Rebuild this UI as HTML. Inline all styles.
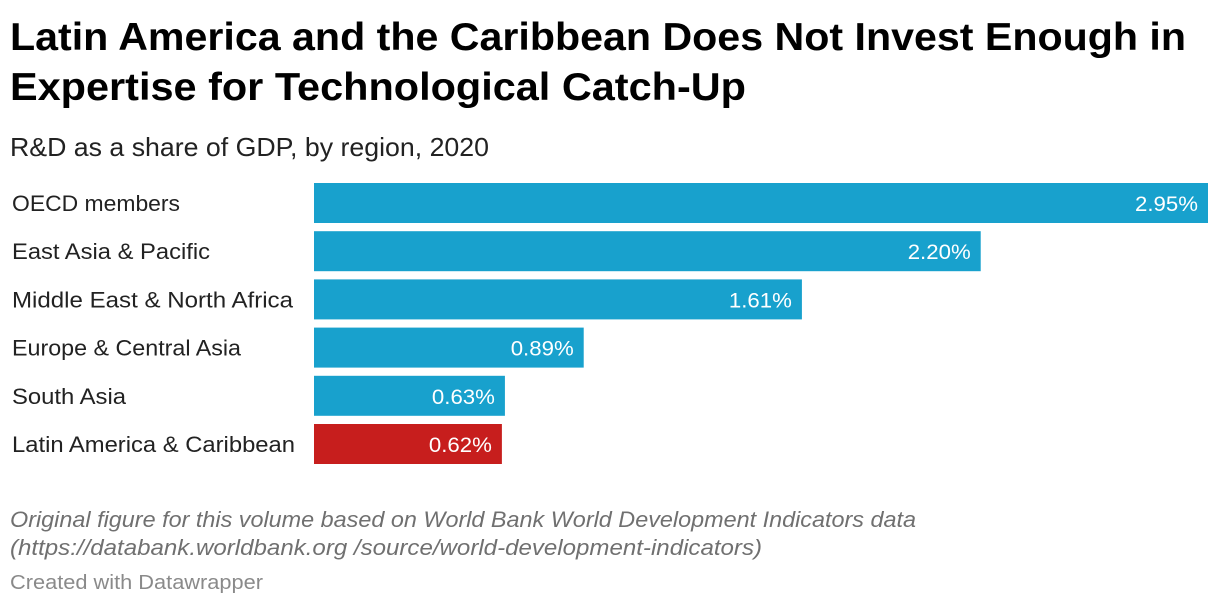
<!DOCTYPE html>
<html><head><meta charset="utf-8"><style>
html,body{margin:0;padding:0;background:#fff;}
svg{display:block;font-family:"Liberation Sans",sans-serif;}
</style></head><body>
<svg id="chart" width="1220" height="606" viewBox="0 0 1220 606">
<text x="10" y="50" font-size="39" font-weight="bold" fill="#000" textLength="1176" lengthAdjust="spacingAndGlyphs">Latin America and the Caribbean Does Not Invest Enough in</text>
<text x="10" y="100" font-size="39" font-weight="bold" fill="#000" textLength="736" lengthAdjust="spacingAndGlyphs">Expertise for Technological Catch-Up</text>
<text x="10" y="156" font-size="26" fill="#222" textLength="479" lengthAdjust="spacingAndGlyphs">R&amp;D as a share of GDP, by region, 2020</text>
<g id="bars"></g>
<text x="10" y="527" font-size="22" font-style="italic" fill="#707070" textLength="906" lengthAdjust="spacingAndGlyphs">Original figure for this volume based on World Bank World Development Indicators data</text>
<text x="10" y="555" font-size="22" font-style="italic" fill="#707070" textLength="752" lengthAdjust="spacingAndGlyphs">(https://databank.worldbank.org /source/world-development-indicators)</text>
<text x="10" y="589" font-size="20" fill="#8a8a8a" textLength="253" lengthAdjust="spacingAndGlyphs">Created with Datawrapper</text>
</svg>
<script>
const categories = ["OECD members","East Asia & Pacific","Middle East & North Africa","Europe & Central Asia","South Asia","Latin America & Caribbean"];
const values = [2.95,2.20,1.61,0.89,0.63,0.62];
const highlight = [false,false,false,false,false,true];
const labelWidths = [168,198,281,229,114,283];
const x0 = 314, xMax = 1208, vMax = 2.95;
function xScale(v){ return x0 + (v / vMax) * (xMax - x0); }
function yScale(i){ return 183 + i * 48.2; }
const ns = "http://www.w3.org/2000/svg";
const g = document.getElementById("bars");
categories.forEach((c, i) => {
  const y = yScale(i);
  const lab = document.createElementNS(ns, "text");
  lab.setAttribute("x", 12); lab.setAttribute("y", y + 28);
  lab.setAttribute("font-size", "22"); lab.setAttribute("fill", "#222");
  lab.setAttribute("textLength", labelWidths[i]);
  lab.setAttribute("lengthAdjust", "spacingAndGlyphs");
  lab.textContent = c;
  
  
  g.appendChild(lab);
  const r = document.createElementNS(ns, "rect");
  r.setAttribute("x", x0); r.setAttribute("y", y);
  r.setAttribute("width", xScale(values[i]) - x0); r.setAttribute("height", 40);
  r.setAttribute("fill", highlight[i] ? "#c71e1d" : "#18a1cd");
  
  
  g.appendChild(r);
  const t = document.createElementNS(ns, "text");
  t.setAttribute("x", xScale(values[i]) - 10); t.setAttribute("y", y + 28);
  t.setAttribute("font-size", "21"); t.setAttribute("fill", "#fff");
  t.setAttribute("text-anchor", "end");
  t.setAttribute("textLength", "63");
  t.setAttribute("lengthAdjust", "spacingAndGlyphs");
  t.textContent = values[i].toFixed(2) + "%";
  
  
  g.appendChild(t);
});
</script>
</body></html>
